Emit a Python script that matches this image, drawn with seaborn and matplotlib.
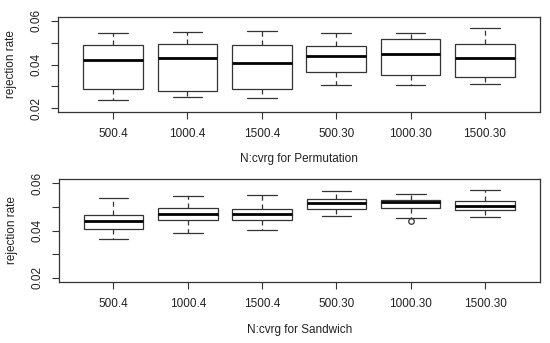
import pandas as pd
import seaborn as sns
import matplotlib.pyplot as plt

# ----------------------------------------------------------------
# Values (five-number summaries per group)
# ----------------------------------------------------------------
groups = ['500.4', '1000.4', '1500.4', '500.30', '1000.30', '1500.30']

perm_low = [0.0237, 0.0249, 0.0247, 0.0304, 0.0304, 0.0311]
perm_q1 = [0.0287, 0.0278, 0.0288, 0.0365, 0.0351, 0.0342]
perm_med = [0.0420, 0.0429, 0.0409, 0.0437, 0.0447, 0.0431]
perm_q3 = [0.0490, 0.0495, 0.0487, 0.0486, 0.0515, 0.0496]
perm_high = [0.0546, 0.0551, 0.0554, 0.0542, 0.0545, 0.0565]
perm_out = [None, None, None, None, None, None]

sand_low = [0.0365, 0.0391, 0.0401, 0.0460, 0.0451, 0.0459]
sand_q1 = [0.0407, 0.0443, 0.0446, 0.0489, 0.0496, 0.0486]
sand_med = [0.0442, 0.0468, 0.0471, 0.0516, 0.0519, 0.0503]
sand_q3 = [0.0465, 0.0493, 0.0489, 0.0533, 0.0527, 0.0525]
sand_high = [0.0536, 0.0546, 0.0550, 0.0566, 0.0554, 0.0571]
sand_out = [None, None, None, None, 0.0439, None]


def build_frame(low, q1, med, q3, high, out):
    # 9 observations per group so that the quartiles land on q1/med/q3
    rows = []
    for i, g in enumerate(groups):
        if out[i] is None:
            vals = [low[i], q1[i], q1[i], med[i], med[i], med[i], q3[i], q3[i], high[i]]
        else:
            vals = [out[i], low[i], q1[i], med[i], med[i], med[i], q3[i], q3[i], high[i]]
        rows += [(g, v) for v in vals]
    return pd.DataFrame(rows, columns=['N:cvrg', 'rate'])


perm_df = build_frame(perm_low, perm_q1, perm_med, perm_q3, perm_high, perm_out)
sand_df = build_frame(sand_low, sand_q1, sand_med, sand_q3, sand_high, sand_out)

sns.set_theme(style='white')
plt.rcParams['font.family'] = ['Liberation Sans', 'DejaVu Sans']

fig = plt.figure(figsize=(5.5, 3.43), dpi=100)
ax1 = fig.add_axes([58 / 550, 1 - 111.7 / 343, 482 / 550, 94.4 / 343])
ax2 = fig.add_axes([58.5 / 550, 1 - 281.7 / 343, 481.5 / 550, 102.4 / 343])

for ax, df, xlab, xlab_y in [(ax1, perm_df, 'N:cvrg for Permutation', -0.496),
                             (ax2, sand_df, 'N:cvrg for Sandwich', -0.467)]:
    sns.boxplot(
        data=df, x='N:cvrg', y='rate', order=groups, ax=ax,
        color='white', linecolor='#333333', linewidth=0.9, width=0.8,
        whis=1.5,
        whiskerprops={'linestyle': (0, (4, 3))},
        medianprops={'linewidth': 2.0, 'color': 'black'},
        flierprops={'marker': 'o', 'markersize': 4, 'markerfacecolor': 'none',
                    'markeredgecolor': '#333333', 'markeredgewidth': 0.9},
    )
    ax.set_xlim(-0.74, 5.74)
    ax.set_ylim(0.0184, 0.0616)
    ax.set_yticks([0.02, 0.03, 0.04, 0.05, 0.06])
    ax.set_yticklabels(['0.02', '', '0.04', '', '0.06'])
    ax.tick_params(axis='both', direction='out', length=5, width=0.8,
                   color='#333333', labelsize=8.5, labelcolor='#222222',
                   left=True, bottom=True)
    ax.tick_params(axis='x', pad=7)
    ax.tick_params(axis='y', pad=6)
    plt.setp(ax.get_yticklabels(), rotation=90, va='center')
    for s in ax.spines.values():
        s.set_visible(True)
        s.set_color('#333333')
        s.set_linewidth(0.9)
    ax.set_ylabel('rejection rate', fontsize=8.5, color='#222222')
    ax.yaxis.set_label_coords((17 - 58) / 482, 0.5)
    ax.set_xlabel(xlab, fontsize=8.5, color='#222222', va='center')
    ax.xaxis.set_label_coords(0.5, xlab_y)

plt.savefig('out.png', dpi=100)
